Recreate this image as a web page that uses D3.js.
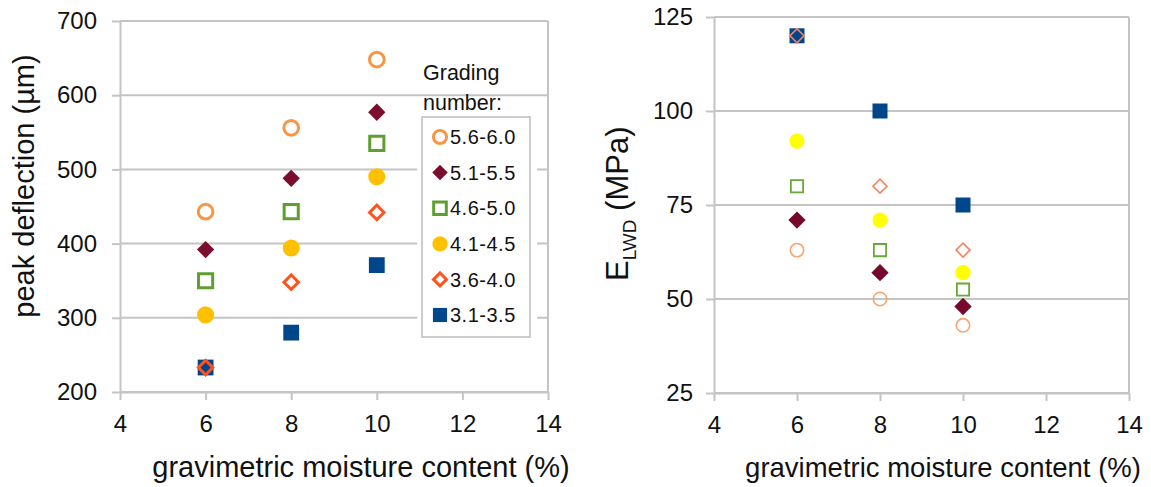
<!DOCTYPE html>
<html>
<head>
<meta charset="utf-8">
<script src="https://cdn.jsdelivr.net/npm/d3@7/dist/d3.min.js"></script>
<style>
  html, body { margin: 0; padding: 0; background: #fff; }
  svg { display: block; }
  text { font-family: "Liberation Sans", Arial, sans-serif; fill: #111; }
</style>
</head>
<body>
<svg id="chart" width="1151" height="487"></svg>
<script>
// Moisture contents tested (x values shared by both panels)
const moisture = [6, 8, 10];

// Grading number groups (legend order)
const gradingGroups = ["5.6-6.0", "5.1-5.5", "4.6-5.0", "4.1-4.5", "3.6-4.0", "3.1-3.5"];

// Peak deflection (µm) per grading group
const deflection_56_60 = [443, 556, 648];
const deflection_51_55 = [392, 488, 577];
const deflection_46_50 = [350, 443, 535];
const deflection_41_45 = [304, 394, 490];
const deflection_36_40 = [233, 348, 442];
const deflection_31_35 = [233, 280, 371];

// E_LWD (MPa) per grading group
const elwd_56_60 = [63, 50, 43];
const elwd_51_55 = [71, 57, 48];
const elwd_46_50 = [80, 63, 52.5];
const elwd_41_45 = [92, 71, 57];
const elwd_36_40 = [120, 80, 63];
const elwd_31_35 = [120, 100, 75];

// Axis ticks
const xTicks = [4, 6, 8, 10, 12, 14];
const deflectionTicks = [200, 300, 400, 500, 600, 700];
const elwdTicks = [25, 50, 75, 100, 125];

const deflectionSeries = [deflection_56_60, deflection_51_55, deflection_46_50, deflection_41_45, deflection_36_40, deflection_31_35];
const elwdSeries = [elwd_56_60, elwd_51_55, elwd_46_50, elwd_41_45, elwd_36_40, elwd_31_35];

// Marker styling per group
const markerStyle = [
  { shape: "circle",  fill: false, left: "#f79646", right: "#f8a46c", aL: 170, aR: 140, swL: 3, swR: 1.6 },
  { shape: "diamond", fill: true,  left: "#7b0d2f", right: "#760a2b", aL: 150, aR: 150, swL: 0, swR: 0 },
  { shape: "square",  fill: false, left: "#5f9f2f", right: "#68a83a", aL: 200, aR: 150, swL: 3, swR: 1.8 },
  { shape: "circle",  fill: true,  left: "#ffc000", right: "#ffff00", aL: 230, aR: 180, swL: 0, swR: 0 },
  { shape: "diamond", fill: false, left: "#ff531c", right: "#f9805f", aL: 105, aR: 98,  swL: 3, swR: 1.6 },
  { shape: "square",  fill: true,  left: "#00468a", right: "#00468a", aL: 250, aR: 225, swL: 0, swR: 0 }
];

const svg = d3.select("#chart");
const gridColor = "#c4c4c4";

function symbolPath(shape, area) {
  if (shape === "circle") return d3.symbol(d3.symbolCircle, area)();
  return d3.symbol(d3.symbolSquare, area)();
}

function drawPanel(cfg) {
  const x = d3.scaleLinear().domain([4, 14]).range(cfg.xRange);
  const y = d3.scaleLinear().domain(cfg.yDomain).range(cfg.yRange);
  const g = svg.append("g");

  // horizontal gridlines
  g.append("g").selectAll("line").data(cfg.yTicks).join("line")
    .attr("x1", x(4)).attr("x2", x(14))
    .attr("y1", d => y(d)).attr("y2", d => y(d))
    .attr("stroke", gridColor).attr("stroke-width", 2);
  // right frame line
  g.append("line")
    .attr("x1", x(14)).attr("x2", x(14))
    .attr("y1", y(cfg.yDomain[1])).attr("y2", y(cfg.yDomain[0]))
    .attr("stroke", gridColor).attr("stroke-width", 2);

  // legend backdrop (interrupts gridlines)
  if (cfg.legend) {
    g.append("rect").attr("x", 417).attr("y", 97).attr("width", 120).attr("height", 243).attr("fill", "#fff");
  }

  const yAxis = d3.axisLeft(y).tickValues(cfg.yTicks).tickSize(8).tickSizeOuter(0).tickPadding(cfg.yPad);
  const ya = g.append("g").attr("transform", `translate(${x(4)},0)`).call(yAxis);
  const xAxis = d3.axisBottom(x).tickValues(xTicks).tickSize(8).tickSizeOuter(0).tickPadding(15);
  const xa = g.append("g").attr("transform", `translate(0,${y(cfg.yDomain[0])})`).call(xAxis);
  [ya, xa].forEach(a => {
    a.select(".domain").attr("stroke", gridColor).attr("stroke-width", 2);
    a.selectAll(".tick line").attr("stroke", gridColor).attr("stroke-width", 2);
    a.selectAll(".tick text").attr("font-size", 24).attr("font-family", "Liberation Sans, Arial, sans-serif").attr("fill", "#111");
  });

  // markers: drawn from the last group to the first so earlier groups sit on top
  for (let i = cfg.series.length - 1; i >= 0; i--) {
    const st = markerStyle[i];
    const col = cfg.side === "L" ? st.left : st.right;
    const area = cfg.side === "L" ? st.aL : st.aR;
    const sw = cfg.side === "L" ? st.swL : st.swR;
    g.append("g").selectAll("path")
      .data(moisture.map((m, k) => [m, cfg.series[i][k]]))
      .join("path")
      .attr("d", symbolPath(st.shape, area))
      .attr("transform", d => `translate(${x(d[0])},${y(d[1])})` + (st.shape === "diamond" ? " rotate(45)" : ""))
      .attr("fill", st.fill ? col : "none")
      .attr("stroke", st.fill ? "none" : col)
      .attr("stroke-width", sw);
  }

  // x axis title
  g.append("text")
    .attr("x", cfg.xTitleX).attr("y", 477)
    .attr("text-anchor", "middle").attr("font-size", cfg.titleSize)
    .text("gravimetric moisture content (%)");
  return { x, y, g };
}

// Left panel: peak deflection
const left = drawPanel({
  side: "L", xRange: [120, 548], yDomain: [200, 700], yRange: [392, 21],
  yTicks: deflectionTicks, series: deflectionSeries, yPad: 15, xTitleX: 361, titleSize: 29, legend: true
});
left.g.append("text")
  .attr("transform", "translate(34,186) rotate(-90)")
  .attr("text-anchor", "middle").attr("font-size", 29)
  .text("peak deflection (µm)");

// Legend
const lg = svg.append("g");
lg.append("text").attr("x", 423).attr("y", 80).attr("font-family", "Open Sans, sans-serif").attr("font-size", 21.5).attr("fill", "#222").text("Grading");
lg.append("text").attr("x", 423).attr("y", 110).attr("font-family", "Open Sans, sans-serif").attr("font-size", 21.5).attr("fill", "#222").text("number:");
lg.append("rect").attr("x", 422).attr("y", 117).attr("width", 108).attr("height", 220)
  .attr("fill", "#fff").attr("stroke", "#bdbdbd").attr("stroke-width", 1.5);
const legendY = d3.scalePoint().domain(gradingGroups).range([137, 315]);
gradingGroups.forEach((name, i) => {
  const st = markerStyle[i];
  const item = lg.append("g").attr("transform", `translate(0,${legendY(name)})`);
  item.append("path")
    .attr("d", symbolPath(st.shape, st.aL * 0.8))
    .attr("transform", "translate(440,0)" + (st.shape === "diamond" ? " rotate(45)" : ""))
    .attr("fill", st.fill ? st.left : "none")
    .attr("stroke", st.fill ? "none" : st.left)
    .attr("stroke-width", st.swL);
  item.append("text").attr("x", 450).attr("y", 0).attr("dy", "0.36em")
    .attr("font-size", 20).attr("letter-spacing", 0.5).attr("fill", "#222").text(name);
});

// Right panel: E_LWD
const right = drawPanel({
  side: "R", xRange: [714, 1129], yDomain: [25, 125], yRange: [393, 17],
  yTicks: elwdTicks, series: elwdSeries, yPad: 13, xTitleX: 943, titleSize: 27.5, legend: false
});
const yl = right.g.append("text")
  .attr("transform", "translate(628,281) rotate(-90)")
  .attr("text-anchor", "start").attr("font-size", 31);
yl.append("tspan").text("E");
yl.append("tspan").attr("font-size", 19).attr("dy", 8).text("LWD");
yl.append("tspan").attr("dy", -8).text(" (MPa)");
</script>
</body>
</html>
